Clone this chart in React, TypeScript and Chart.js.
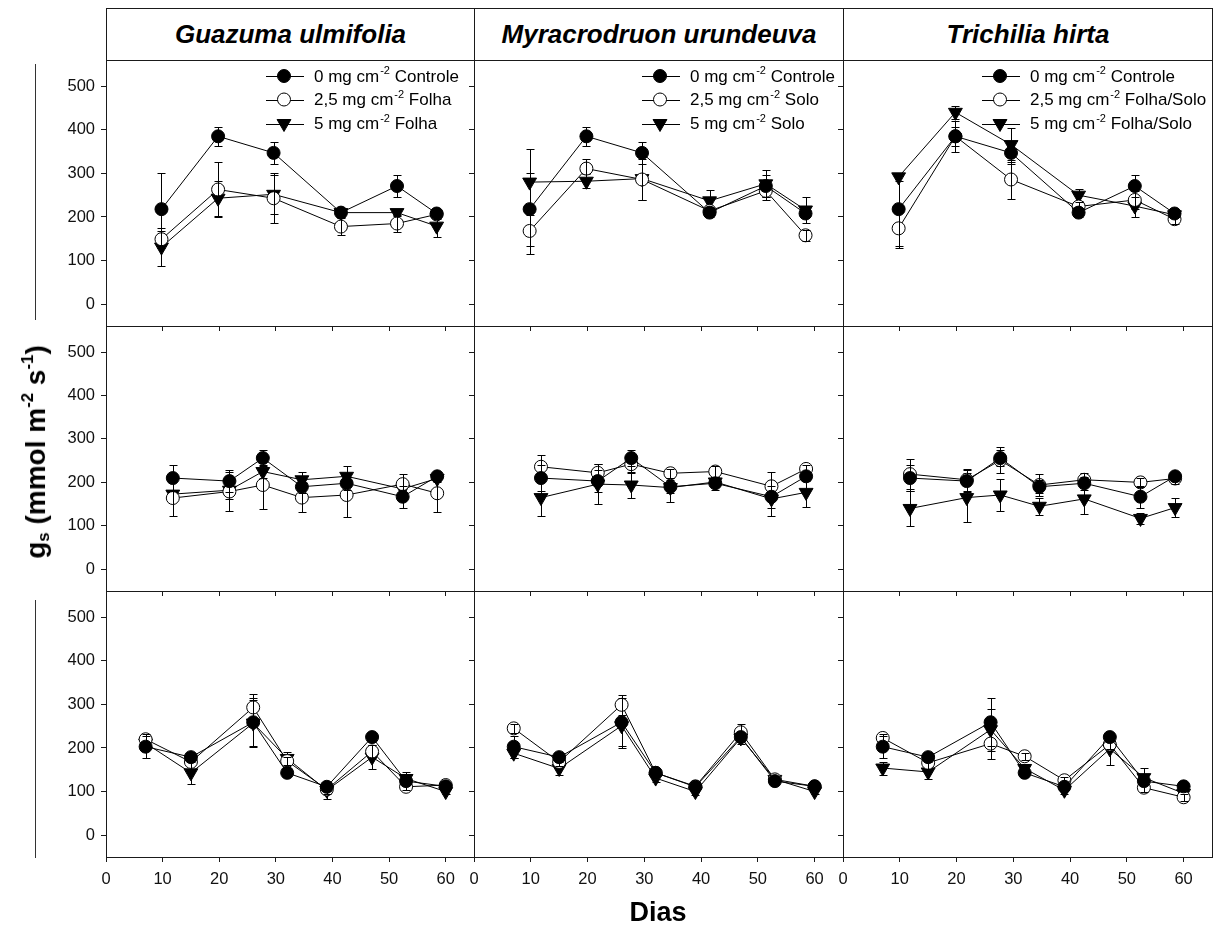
import React, { useEffect, useRef } from "react";
import { Chart, registerables } from "chart.js";

Chart.register(...registerables);

const FONT = "'Liberation Sans', Arial, Helvetica, sans-serif";

// ---------- text ----------
const SPECIES = ["Guazuma ulmifolia", "Myracrodruon urundeuva", "Trichilia hirta"];
const DOSES = ["0", "2,5", "5"];
const TREATMENTS = [
  ["Controle", "Folha", "Folha"],
  ["Controle", "Solo", "Solo"],
  ["Controle", "Folha/Solo", "Folha/Solo"],
];
const X_TITLE = "Dias";

// ---------- ticks ----------
const X_TICKS = [0, 10, 20, 30, 40, 50, 60];
const Y_TICKS = [0, 100, 200, 300, 400, 500];

// ---------- data: days ----------
const DAYS_ROW1 = [9.8, 19.8, 29.6, 41.5, 51.4, 58.4];
const DAYS_ROW2 = [11.8, 21.8, 27.7, 34.6, 42.5, 52.4, 58.5];
const DAYS_ROW3 = [7, 15, 26, 32, 39, 47, 53, 60];

// ---------- row 1 ----------
const CONTROLE_R1 = [218, 385, 347, 210, 271, 208];
const CONTROLE_R1_SE = [84, 22, 25, 10, 25, 8];
const GU_R1_25 = [149, 263, 243, 178, 185, 206];
const GU_R1_25_SE = [20, 62, 57, 20, 20, 10];
const GU_R1_5 = [131, 243, 252, 210, 210, 179];
const GU_R1_5_SE = [43, 40, 45, 8, 8, 26];
const MU_R1_25 = [168, 311, 286, 214, 260, 158];
const MU_R1_25_SE = [53, 21, 46, 10, 20, 12];
const MU_R1_5 = [280, 282, 288, 237, 276, 216];
const MU_R1_5_SE = [75, 16, 50, 25, 31, 30];
const TH_R1_25 = [174, 385, 286, 224, 239, 195];
const TH_R1_25_SE = [44, 35, 44, 10, 20, 10];
const TH_R1_5 = [292, 440, 366, 250, 225, 205];
const TH_R1_5_SE = [10, 15, 39, 14, 25, 8];

// ---------- row 2 ----------
const CONTROLE_R2 = [210, 203, 256, 190, 198, 167, 214];
const CONTROLE_R2_SE = [30, 25, 18, 15, 15, 25, 10];
const GU_R2_25 = [164, 179, 194, 165, 171, 196, 175];
const GU_R2_25_SE = [41, 44, 55, 34, 51, 23, 43];
const GU_R2_5 = [173, 182, 225, 206, 214, 185, 209];
const GU_R2_5_SE = [10, 20, 15, 19, 24, 15, 8];
const MU_R2_25 = [236, 222, 242, 221, 225, 191, 231];
const MU_R2_25_SE = [27, 20, 20, 10, 12, 34, 10];
const MU_R2_5 = [165, 196, 194, 188, 201, 162, 177];
const MU_R2_5_SE = [42, 46, 31, 34, 12, 40, 33];
const TH_R2_25 = [219, 206, 251, 194, 206, 200, 209];
const TH_R2_25_SE = [35, 25, 30, 25, 15, 10, 12];
const TH_R2_5 = [140, 165, 171, 145, 162, 117, 142];
const TH_R2_5_SE = [40, 56, 36, 20, 35, 12, 21];

// ---------- row 3 ----------
const CONTROLE_R3 = [203, 179, 259, 143, 111, 225, 124, 112];
const CONTROLE_R3_SE = [25, 10, 55, 8, 10, 10, 8, 8];
const GU_R3_25 = [220, 168, 293, 170, 105, 192, 111, 115];
const GU_R3_25_SE = [12, 20, 31, 10, 10, 15, 8, 8];
const GU_R3_5 = [211, 143, 257, 176, 103, 179, 130, 100];
const GU_R3_5_SE = [8, 25, 54, 14, 19, 28, 15, 5];
const MU_R3_25 = [245, 168, 299, 143, 112, 236, 128, 112];
const MU_R3_25_SE = [10, 10, 23, 8, 8, 18, 8, 8];
const MU_R3_5 = [188, 153, 251, 131, 100, 223, 128, 100];
const MU_R3_5_SE = [12, 14, 50, 8, 8, 15, 10, 5];
const TH_R3_25 = [223, 166, 210, 181, 126, 208, 109, 87];
const TH_R3_25_SE = [10, 15, 35, 8, 8, 10, 10, 8];
const TH_R3_5 = [154, 145, 242, 153, 103, 198, 132, 96];
const TH_R3_5_SE = [15, 17, 48, 10, 8, 36, 22, 8];

const ROW_DAYS = [DAYS_ROW1, DAYS_ROW2, DAYS_ROW3];
// [row][col] -> [[values, errors] x 3 series]
const PANEL_SERIES = [
  [
    [[CONTROLE_R1, CONTROLE_R1_SE], [GU_R1_25, GU_R1_25_SE], [GU_R1_5, GU_R1_5_SE]],
    [[CONTROLE_R1, CONTROLE_R1_SE], [MU_R1_25, MU_R1_25_SE], [MU_R1_5, MU_R1_5_SE]],
    [[CONTROLE_R1, CONTROLE_R1_SE], [TH_R1_25, TH_R1_25_SE], [TH_R1_5, TH_R1_5_SE]],
  ],
  [
    [[CONTROLE_R2, CONTROLE_R2_SE], [GU_R2_25, GU_R2_25_SE], [GU_R2_5, GU_R2_5_SE]],
    [[CONTROLE_R2, CONTROLE_R2_SE], [MU_R2_25, MU_R2_25_SE], [MU_R2_5, MU_R2_5_SE]],
    [[CONTROLE_R2, CONTROLE_R2_SE], [TH_R2_25, TH_R2_25_SE], [TH_R2_5, TH_R2_5_SE]],
  ],
  [
    [[CONTROLE_R3, CONTROLE_R3_SE], [GU_R3_25, GU_R3_25_SE], [GU_R3_5, GU_R3_5_SE]],
    [[CONTROLE_R3, CONTROLE_R3_SE], [MU_R3_25, MU_R3_25_SE], [MU_R3_5, MU_R3_5_SE]],
    [[CONTROLE_R3, CONTROLE_R3_SE], [TH_R3_25, TH_R3_25_SE], [TH_R3_5, TH_R3_5_SE]],
  ],
];

// ---------- layout ----------
const COL_LEFT = [106, 474, 843];
const COL_WIDTH = [368, 369, 369];
const ROW_TOP = [60, 326, 591];
const ROW_HEIGHT = [266, 265, 266];
const LEGEND_X = [160, 168, 139];
const LEGEND_ROW_Y = [16, 39.5, 63.5];
const LINE_COLOR = "#1a1a1a";

const SERIES_STYLE = [
  { pointStyle: "circle", radius: 6.5, fill: "#000", rotation: 0 },
  { pointStyle: "circle", radius: 6.5, fill: "#fff", rotation: 0 },
  { pointStyle: "triangle", radius: 8, fill: "#000", rotation: 180 },
];

function drawMarker(ctx: CanvasRenderingContext2D, style: any, x: number, y: number) {
  ctx.beginPath();
  if (style.pointStyle === "circle") {
    ctx.arc(x, y, style.radius, 0, Math.PI * 2);
  } else {
    const r = style.radius;
    let rad = (style.rotation * Math.PI) / 180;
    ctx.moveTo(x + Math.sin(rad) * r, y - Math.cos(rad) * r);
    rad += (2 * Math.PI) / 3;
    ctx.lineTo(x + Math.sin(rad) * r, y - Math.cos(rad) * r);
    rad += (2 * Math.PI) / 3;
    ctx.lineTo(x + Math.sin(rad) * r, y - Math.cos(rad) * r);
    ctx.closePath();
  }
  ctx.fillStyle = style.fill;
  ctx.fill();
  ctx.strokeStyle = "#000";
  ctx.lineWidth = 1;
  ctx.stroke();
}

const framePlugin = {
  id: "frame",
  beforeDatasetsDraw(chart: any) {
    const { ctx, chartArea: a } = chart;
    ctx.save();
    ctx.strokeStyle = LINE_COLOR;
    ctx.lineWidth = 1;
    ctx.strokeRect(
      Math.round(a.left) + 0.5,
      Math.round(a.top) + 0.5,
      Math.round(a.right - a.left),
      Math.round(a.bottom - a.top)
    );
    ctx.restore();
  },
};

const errorBarPlugin = {
  id: "errorBars",
  afterDatasetDraw(chart: any, args: any) {
    const ds: any = chart.data.datasets[args.index];
    const errs = ds.errors;
    if (!errs) return;
    const ys = chart.scales.y;
    const ctx = chart.ctx;
    const a = chart.chartArea;
    ctx.save();
    ctx.beginPath();
    ctx.rect(a.left, a.top, a.right - a.left, a.bottom - a.top);
    ctx.clip();
    ctx.strokeStyle = "#000";
    ctx.lineWidth = 1;
    args.meta.data.forEach((el: any, i: number) => {
      const e = errs[i];
      if (!e) return;
      const v = ds.data[i].y;
      const x = Math.round(el.x) + 0.5;
      const y1 = Math.round(ys.getPixelForValue(v + e)) + 0.5;
      const y2 = Math.round(ys.getPixelForValue(v - e)) + 0.5;
      ctx.beginPath();
      ctx.moveTo(x, y1);
      ctx.lineTo(x, y2);
      ctx.moveTo(x - 4, y1);
      ctx.lineTo(x + 4, y1);
      ctx.moveTo(x - 4, y2);
      ctx.lineTo(x + 4, y2);
      ctx.stroke();
    });
    ctx.restore();
  },
};

const panelLegendPlugin = {
  id: "panelLegend",
  afterDatasetsDraw(chart: any, _args: any, opts: any) {
    if (!opts || !opts.show) return;
    const ctx = chart.ctx;
    const a = chart.chartArea;
    ctx.save();
    chart.data.datasets.forEach((ds: any, i: number) => {
      const y = a.top + LEGEND_ROW_Y[i];
      const x0 = a.left + opts.x;
      ctx.beginPath();
      ctx.strokeStyle = "#000";
      ctx.lineWidth = 1;
      ctx.moveTo(x0, Math.round(y) + 0.5);
      ctx.lineTo(x0 + 38, Math.round(y) + 0.5);
      ctx.stroke();
      drawMarker(ctx, SERIES_STYLE[i], x0 + 18, y);
      const [pre, sup, post] = ds.legendParts;
      ctx.fillStyle = "#000";
      ctx.textBaseline = "middle";
      ctx.textAlign = "left";
      let tx = x0 + 48;
      ctx.font = `17px ${FONT}`;
      ctx.fillText(pre, tx, y + 1);
      tx += ctx.measureText(pre).width + 1;
      ctx.font = `11px ${FONT}`;
      ctx.fillText(sup, tx, y - 5);
      tx += ctx.measureText(sup).width;
      ctx.font = `17px ${FONT}`;
      ctx.fillText(post, tx, y + 1);
    });
    ctx.restore();
  },
};

function Panel({ row, col }: { row: number; col: number }) {
  const ref = useRef<HTMLCanvasElement>(null);
  const padL = col === 0 ? 100 : 8;
  const padR = 4;
  const padT = 4;
  const padB = row === 2 ? 40 : 8;
  const L = COL_LEFT[col];
  const T = ROW_TOP[row];
  const W = COL_WIDTH[col];
  const H = ROW_HEIGHT[row];
  const CW = W + padL + padR;
  const CH = H + padT + padB;

  useEffect(() => {
    const days = ROW_DAYS[row];
    const series = PANEL_SERIES[row][col];
    const datasets = series.map(([vals, errs]: any, i: number) => {
      const st = SERIES_STYLE[i];
      return {
        label: `${DOSES[i]} mg cm-2 ${TREATMENTS[col][i]}`,
        legendParts: [`${DOSES[i]} mg cm`, "-2", ` ${TREATMENTS[col][i]}`],
        data: days.map((d: number, k: number) => ({ x: d, y: vals[k] })),
        errors: errs,
        borderColor: "#000",
        borderWidth: 1,
        backgroundColor: st.fill,
        pointStyle: st.pointStyle,
        pointRadius: st.radius,
        pointRotation: st.rotation,
        pointBackgroundColor: st.fill,
        pointBorderColor: "#000",
        pointBorderWidth: 1,
        tension: 0,
        fill: false,
      };
    });
    const chart = new Chart(ref.current as HTMLCanvasElement, {
      type: "line",
      data: { datasets } as any,
      options: {
        animation: false,
        responsive: false,
        events: [],
        layout: { autoPadding: false, padding: { left: 0, top: padT, right: padR, bottom: 0 } },
        plugins: {
          legend: { display: false },
          tooltip: { enabled: false },
          panelLegend: { show: row === 0, x: LEGEND_X[col] },
        } as any,
        scales: {
          x: {
            type: "linear",
            min: 0,
            max: 65,
            afterBuildTicks: (s: any) => {
              s.ticks = X_TICKS.map((v) => ({ value: v }));
            },
            afterFit: (s: any) => {
              s.height = padB;
              s.paddingLeft = 0;
              s.paddingRight = 0;
            },
            grid: { drawOnChartArea: false, drawTicks: true, tickLength: 5, color: LINE_COLOR, lineWidth: 1 },
            border: { display: false },
            ticks: {
              display: row === 2,
              autoSkip: false,
              maxRotation: 0,
              padding: 8,
              color: "#111",
              font: { family: FONT, size: 16.5 },
            },
          },
          y: {
            type: "linear",
            min: -50,
            max: 560,
            afterBuildTicks: (s: any) => {
              s.ticks = Y_TICKS.map((v) => ({ value: v }));
            },
            afterFit: (s: any) => {
              s.width = padL;
              s.paddingTop = 0;
              s.paddingBottom = 0;
            },
            grid: { drawOnChartArea: false, drawTicks: true, tickLength: 5, color: LINE_COLOR, lineWidth: 1 },
            border: { display: false },
            ticks: {
              display: col === 0,
              autoSkip: false,
              padding: 6,
              color: "#111",
              font: { family: FONT, size: 16.5 },
            },
          },
        },
      } as any,
      plugins: [framePlugin, errorBarPlugin, panelLegendPlugin],
    });
    return () => chart.destroy();
  }, []);

  return (
    <canvas
      ref={ref}
      width={CW}
      height={CH}
      style={{ position: "absolute", left: L - padL, top: T - padT, width: CW, height: CH }}
    />
  );
}

export default function App() {
  const panels: any[] = [];
  for (let r = 0; r < 3; r++) for (let c = 0; c < 3; c++) panels.push(<Panel key={`${r}-${c}`} row={r} col={c} />);
  return (
    <div
      style={{
        position: "absolute",
        left: 0,
        top: 0,
        width: 1220,
        height: 938,
        background: "#fff",
        fontFamily: FONT,
        color: "#000",
        overflow: "hidden",
      }}
    >
      {SPECIES.map((name, c) => (
        <div
          key={name}
          style={{
            position: "absolute",
            left: COL_LEFT[c],
            top: 8,
            width: COL_WIDTH[c] + 1,
            height: 53,
            border: `1px solid ${LINE_COLOR}`,
            boxSizing: "border-box",
            display: "flex",
            alignItems: "center",
            justifyContent: "center",
            fontWeight: "bold",
            fontStyle: "italic",
            fontSize: 26,
            whiteSpace: "nowrap",
          }}
        >
          {name}
        </div>
      ))}
      {panels}
      <div style={{ position: "absolute", left: 35, top: 64, width: 1, height: 256, background: "#333" }} />
      <div style={{ position: "absolute", left: 35, top: 600, width: 1, height: 258, background: "#333" }} />
      <div
        style={{
          position: "absolute",
          left: 36,
          top: 452,
          transform: "translate(-50%, -50%) rotate(-90deg)",
          whiteSpace: "nowrap",
          fontWeight: "bold",
          fontSize: 28,
          lineHeight: "32px",
        }}
      >
        g<sub style={{ fontSize: "0.6em", verticalAlign: "-0.25em" }}>s</sub> (mmol m
        <sup style={{ fontSize: "0.6em", verticalAlign: "0.7em" }}>-2</sup> s
        <sup style={{ fontSize: "0.6em", verticalAlign: "0.7em" }}>-1</sup>)
      </div>
      <div
        style={{
          position: "absolute",
          left: 658,
          top: 912,
          transform: "translate(-50%, -50%)",
          fontWeight: "bold",
          fontSize: 27,
          whiteSpace: "nowrap",
        }}
      >
        {X_TITLE}
      </div>
    </div>
  );
}
